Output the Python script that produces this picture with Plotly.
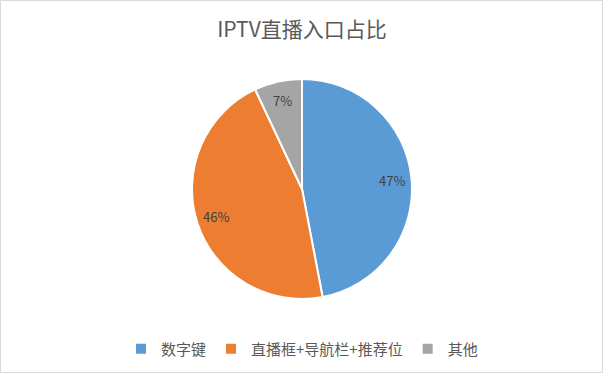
import math
import plotly.graph_objects as go

categories = ["数字键", "直播框+导航栏+推荐位", "其他"]
values = [47, 46, 7]
colors = ["#5B9BD5", "#ED7D31", "#A5A5A5"]

font_family = "Noto Sans CJK SC, Noto Sans, sans-serif"

W, H = 604, 374
T, B = 79, 75
PH = H - T - B
R = PH / 2

fig = go.Figure(go.Pie(
    labels=categories,
    values=values,
    sort=False,
    direction="clockwise",
    rotation=0,
    marker=dict(colors=colors, line=dict(color="white", width=2)),
    textinfo="none",
    hoverinfo="label+percent",
))

# percentage labels placed at slice mid-angles
total = sum(values)
annotations = []
cum = 0
for v in values:
    mid = (cum + v / 2) / total * 2 * math.pi
    cum += v
    rf = 0.82 * R
    dx = math.sin(mid) * rf
    dy = math.cos(mid) * rf
    annotations.append(dict(
        x=0.5 + dx / W, y=0.5 + dy / PH, xref="paper", yref="paper",
        text=f"{round(v / total * 100)}%", showarrow=False,
        font=dict(family=font_family, size=13, color="#404040"),
        xanchor="center", yanchor="middle",
    ))

fig.update_layout(
    width=W, height=H,
    paper_bgcolor="white",
    plot_bgcolor="white",
    margin=dict(l=0, r=0, t=T, b=B),
    title=dict(
        text="IPTV直播入口占比",
        x=0.5, xanchor="center",
        y=1 - 30 / H, yanchor="middle",
        font=dict(family=font_family, size=21, color="#595959"),
    ),
    legend=dict(
        orientation="h",
        x=0.5, xanchor="center",
        y=(PH - (349 - T)) / PH, yanchor="middle",
        font=dict(family=font_family, size=15, color="#595959"),
        itemwidth=30,
    ),
    showlegend=True,
    annotations=annotations,
    shapes=[dict(
        type="rect", xref="paper", yref="paper",
        x0=0.5 / W, x1=1 - 1.5 / W,
        y0=-(B - 1.5) / PH,
        y1=(PH + T - 0.5) / PH,
        line=dict(color="#D9D9D9", width=1),
        fillcolor="rgba(0,0,0,0)",
        layer="above",
    )],
)

fig.write_html("out.html", config={"displayModeBar": False},
               post_script="document.body.style.margin='0';")
